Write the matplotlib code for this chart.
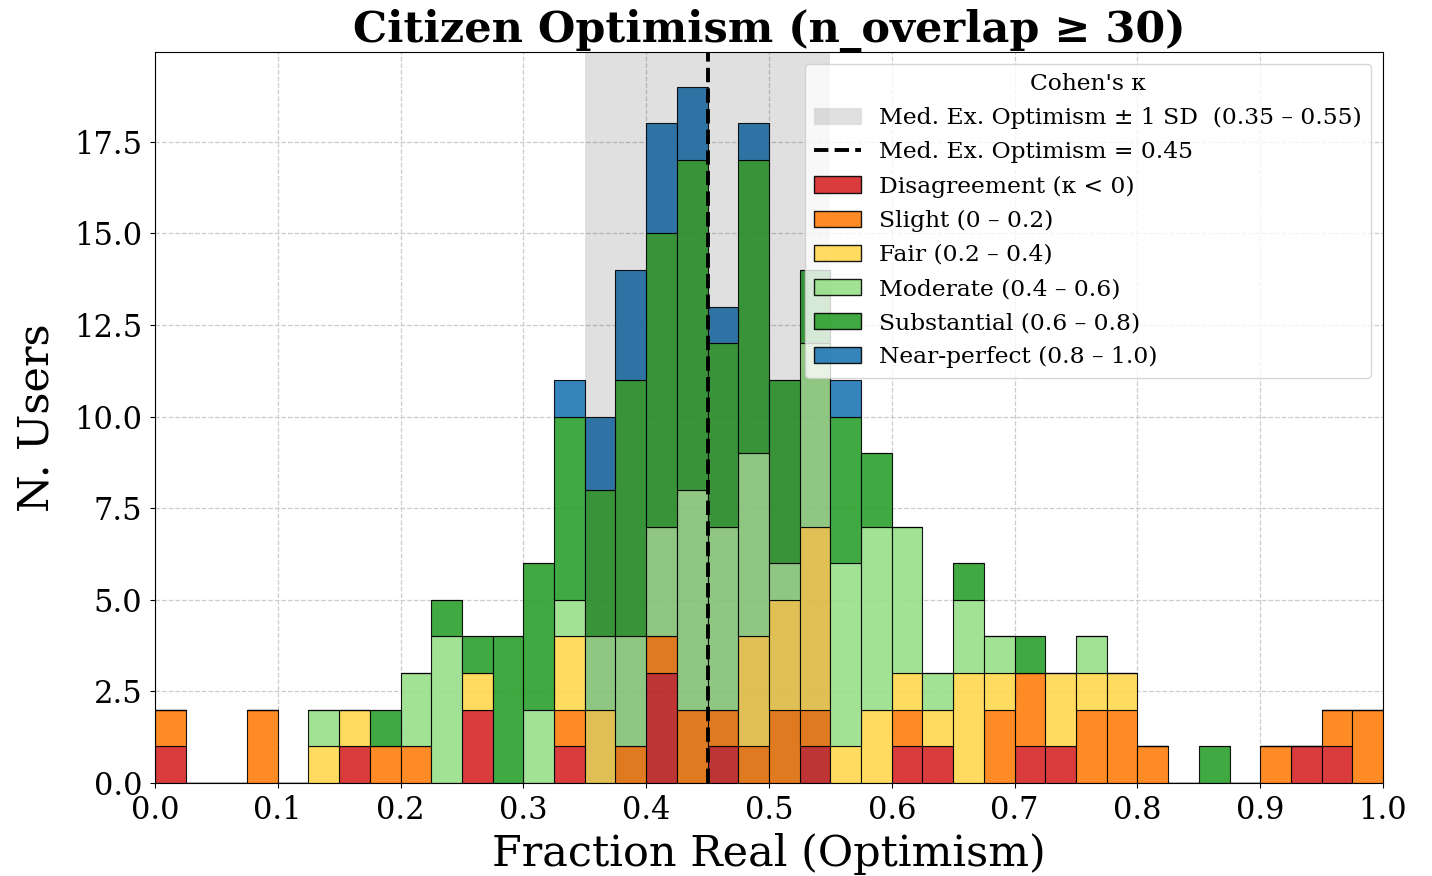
import matplotlib
matplotlib.use("Agg")
from matplotlib import pyplot as plt
from matplotlib.patches import Patch
from matplotlib.lines import Line2D
import numpy as np

# 40 bins of width 0.025 on [0, 1]
bin_edges = np.linspace(0, 1, 41)

# counts per bin, one list per Cohen's kappa category (index = bin number)
disagreement = [1, 0, 0, 0, 0, 0, 1, 0, 0, 0, 2, 0, 0, 1, 0, 0, 3, 0, 1, 0,
                0, 1, 0, 0, 1, 1, 0, 0, 1, 1, 0, 0, 0, 0, 0, 0, 0, 1, 1, 0]
slight = [1, 0, 0, 2, 0, 0, 0, 1, 1, 0, 0, 0, 0, 1, 0, 1, 1, 2, 1, 1,
          2, 1, 0, 0, 1, 0, 0, 2, 2, 0, 2, 2, 1, 0, 0, 0, 1, 0, 1, 2]
fair = [0, 0, 0, 0, 0, 1, 1, 0, 0, 0, 1, 0, 0, 2, 2, 0, 0, 0, 0, 3,
        3, 5, 1, 2, 1, 1, 3, 1, 0, 2, 1, 1, 0, 0, 0, 0, 0, 0, 0, 0]
moderate = [0, 0, 0, 0, 0, 1, 0, 0, 2, 4, 0, 0, 2, 1, 2, 3, 3, 6, 5, 5,
            1, 5, 5, 5, 4, 1, 2, 1, 0, 0, 1, 0, 0, 0, 0, 0, 0, 0, 0, 0]
substantial = [0, 0, 0, 0, 0, 0, 0, 1, 0, 1, 1, 4, 4, 5, 4, 7, 8, 9, 5, 8,
               5, 2, 4, 2, 0, 0, 1, 0, 1, 0, 0, 0, 0, 0, 1, 0, 0, 0, 0, 0]
near_perfect = [0, 0, 0, 0, 0, 0, 0, 0, 0, 0, 0, 0, 0, 1, 2, 3, 3, 2, 1, 1,
                0, 0, 1, 0, 0, 0, 0, 0, 0, 0, 0, 0, 0, 0, 0, 0, 0, 0, 0, 0]

categories = ["Disagreement (κ < 0)", "Slight (0 – 0.2)", "Fair (0.2 – 0.4)",
              "Moderate (0.4 – 0.6)", "Substantial (0.6 – 0.8)", "Near-perfect (0.8 – 1.0)"]
colors = ["#d62728", "#ff7f0e", "#ffd84f", "#98df8a", "#2ca02c", "#1f77b4"]

median_opt = 0.45
sd_low, sd_high = 0.35, 0.55


def main():
    plt.rcParams['font.family'] = 'DejaVu Serif'
    fig = plt.figure(figsize=(14.32, 8.76), dpi=100)
    ax = fig.add_axes([0.1082, 0.1062, 0.8576, 0.8344])

    series = [disagreement, slight, fair, moderate, substantial, near_perfect]
    bottom = np.zeros(len(bin_edges) - 1)
    for vals, col in zip(series, colors):
        vals = np.array(vals)
        ax.bar(bin_edges[:-1], vals, width=0.025, align='edge', bottom=bottom,
               color=col, alpha=0.9, edgecolor='black', linewidth=0.8, zorder=2)
        bottom += vals

    ax.axvspan(sd_low, sd_high, color='black', alpha=0.12, linewidth=0, zorder=3)
    ax.axvline(median_opt, color='black', linestyle='--', linewidth=2.8, zorder=4)

    ax.set_xlim(0, 1)
    ax.set_ylim(0, 19.95)
    ax.set_xticks(np.arange(0, 1.01, 0.1))
    ax.set_axisbelow(True)
    ax.grid(True, linestyle='--', color='#cccccc', linewidth=0.9)
    ax.tick_params(labelsize=22, pad=5.5)

    ax.set_title("Citizen Optimism (n_overlap ≥ 30)", fontsize=31, fontweight='bold', pad=4)
    ax.set_xlabel("Fraction Real (Optimism)", fontsize=31, labelpad=5)
    ax.set_ylabel("N. Users", fontsize=31, labelpad=12)

    handles = [Patch(facecolor='black', alpha=0.12, edgecolor='gray',
                     label="Med. Ex. Optimism ± 1 SD  (0.35 – 0.55)"),
               Line2D([0], [0], color='black', linestyle='--', linewidth=2.8,
                      label="Med. Ex. Optimism = 0.45")]
    for lab, col in zip(categories, colors):
        handles.append(Patch(facecolor=col, alpha=0.9, edgecolor='black', label=lab))
    ax.legend(handles=handles, title="Cohen's κ", loc='upper right',
              fontsize=16.8, title_fontsize=16.8, labelspacing=0.52)

    plt.savefig("out.png", dpi=100)


if __name__ == "__main__":
    main()
